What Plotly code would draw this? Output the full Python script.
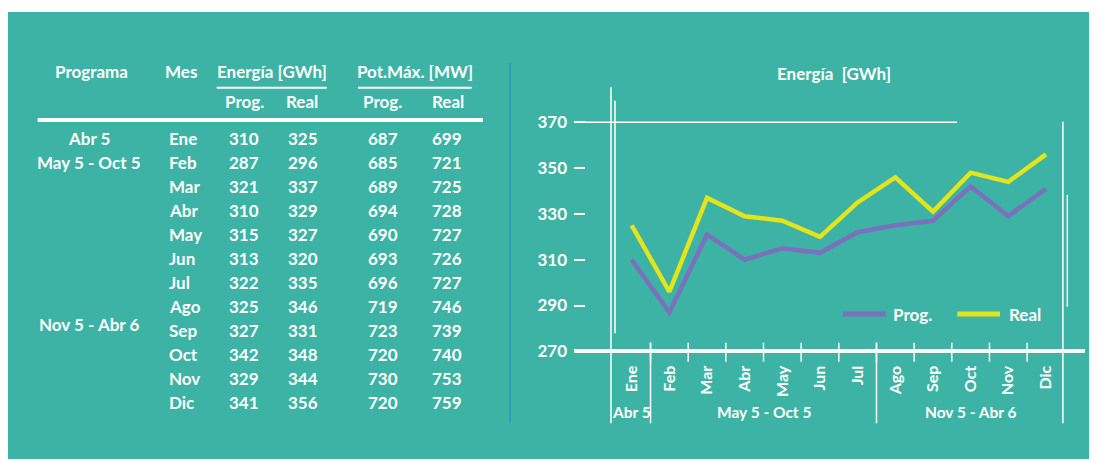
import plotly.graph_objects as go

# The page body adds an 8px margin; the figure is sized so that, with that
# margin, it fills the 1097x462 window. All layout helpers below take
# window pixel positions.
OFF = 8
W, H = 1097 - OFF, 462 - OFF
FONT = "Lato"
TEAL = "#3cb3a4"
WHITE = "#ffffff"
SEP_BLUE = "#1f98cf"

# ---------------- data ----------------
months = ["Ene", "Feb", "Mar", "Abr", "May", "Jun", "Jul", "Ago", "Sep", "Oct", "Nov", "Dic"]
energia_prog = [310, 287, 321, 310, 315, 313, 322, 325, 327, 342, 329, 341]
energia_real = [325, 296, 337, 329, 327, 320, 335, 346, 331, 348, 344, 356]
potmax_prog = [687, 685, 689, 694, 690, 693, 696, 719, 723, 720, 730, 720]
potmax_real = [699, 721, 725, 728, 727, 726, 727, 746, 739, 740, 753, 759]
programas = ["Abr 5", "May 5 - Oct 5", "Nov 5 - Abr 6"]
programa_first = [0, 1, 7]
programa_last = [0, 6, 11]
y_ticks = [270, 290, 310, 330, 350, 370]
series_names = ["Prog.", "Real"]
series_colors = ["#7b70bc", "#e4e41c"]

# ---------------- helpers (layout, window pixels -> paper) ----------------
def px(x):
    return (x - OFF) / W

def py(y):
    return 1 - (y - OFF) / H

annotations = []
shapes = []

def txt(s, x, y, size=17, xanchor="center", xref="paper", yref="paper"):
    annotations.append(dict(
        text=s, x=x, y=y, xref=xref, yref=yref, xanchor=xanchor, yanchor="middle",
        showarrow=False, font=dict(family=FONT, size=size, color=WHITE, weight="bold")))

def line(x0, y0, x1, y1, width=1.5, color=WHITE, xref="paper", yref="paper", layer="above"):
    shapes.append(dict(type="line", x0=x0, y0=y0, x1=x1, y1=y1, xref=xref, yref=yref,
                       layer=layer, line=dict(color=color, width=width)))

# background panel
shapes.append(dict(type="rect", xref="paper", yref="paper", x0=px(7), x1=px(1097),
                   y0=py(459), y1=py(12), fillcolor=TEAL, line=dict(width=0), layer="below"))

# ---------------- table ----------------
ROW0, ROWH = 138.7, 24.0
def row_y(r):
    return py(ROW0 + ROWH * r)

txt("Programa", px(91), py(71.7))
txt("Mes", px(180.5), py(71.7))
txt("Energía [GWh]", px(272), py(71.7))
txt("Pot.Máx. [MW]", px(414.7), py(71.7))
line(px(216.7), py(87.7), px(326.7), py(87.7), width=2)
line(px(358), py(87.7), px(471.7), py(87.7), width=2)
sub_x = [244.5, 301.8, 382.5, 448]
for s, x in zip(["Prog.", "Real", "Prog.", "Real"], sub_x):
    txt(s, px(x), py(101.7))
line(px(37.7), py(120), px(483), py(120), width=4)

col_x = [243.8, 302.7, 382.5, 447.2]
for r, m in enumerate(months):
    txt(m, px(166.5), row_y(r), xanchor="left")
    for x, arr in zip(col_x, [energia_prog, energia_real, potmax_prog, potmax_real]):
        txt(str(arr[r]), px(x), row_y(r))

prog_label_rows = [0, 1, 7.75]
for name, r in zip(programas, prog_label_rows):
    txt(name, px(89), row_y(r))

# separator
line(px(510), py(63), px(510), py(423), width=1.5, color=SEP_BLUE)

# ---------------- chart ----------------
X0, DX = 631.7, 37.66          # window x of first category, pixels per category
PL, PR, PT, PB = 574, 1085, 80, 430
Y370, Y270 = 122.3, 351.3

def xval(p):
    return (p - X0) / DX

def yval(p):
    return 370 - (p - Y370) * 100 / (Y270 - Y370)

xs = list(range(len(months)))
fig = go.Figure()
for name, vals, col in zip(series_names, [energia_prog, energia_real], series_colors):
    fig.add_trace(go.Scatter(x=xs, y=vals, mode="lines", name=name,
                             line=dict(color=col, width=4.5), showlegend=False,
                             hoverinfo="skip"))

# chart title
txt("Energía\u00a0 [GWh]", px(834), py(73))

# horizontal 370 line
line(px(574), y_ticks[-1], px(957), y_ticks[-1], width=1.5, yref="y")
# frame verticals
line(px(611), py(87.3), px(611), py(423.3))
line(px(615), py(100.7), px(615), py(333.3))
line(px(1062.9), py(121.7), px(1062.9), py(423.3))
line(px(1067.3), py(195), px(1067.3), py(306.7))
# category boundary ticks
for i in range(len(months) - 1):
    line(i + 0.5, py(342.7), i + 0.5, py(361.7), xref="x")
# program separators
for f in programa_first[1:]:
    line(f - 0.5, py(342.7), f - 0.5, py(423.3), xref="x")
# program labels under axis
for name, f, l in zip(programas, programa_first, programa_last):
    txt(name, (f + l) / 2, py(412.3), size=15.5, xref="x")

# legend
leg_line = [(843, 885.5), (957.3, 1000)]
leg_text = [890.6, 1006.7]
for name, col, (a, b), tx in zip(series_names, series_colors, leg_line, leg_text):
    line(px(a), py(314), px(b), py(314), width=5, color=col)
    txt(name, px(tx), py(314), xanchor="left")

fig.update_layout(
    width=W, height=H,
    margin=dict(l=0, r=0, t=0, b=0),
    paper_bgcolor="white", plot_bgcolor="rgba(0,0,0,0)",
    showlegend=False,
    font=dict(family=FONT, color=WHITE),
    xaxis=dict(domain=[px(PL), px(PR)], range=[xval(PL), xval(PR)],
               anchor="free", position=py(Y270),
               showline=True, linewidth=4, linecolor=WHITE,
               tickmode="array", tickvals=xs, ticktext=months, tickangle=-90,
               ticks="", showgrid=False, zeroline=False, ticklabelstandoff=6,
               tickfont=dict(family=FONT, size=16, color=WHITE, weight="bold")),
    yaxis=dict(domain=[py(PB), py(PT)], range=[yval(PB), yval(PT)], anchor="x",
               showline=False, showgrid=False, zeroline=False,
               tickmode="array", tickvals=y_ticks, ticks="inside", ticklen=11,
               tickwidth=1.5, tickcolor=WHITE, ticklabelstandoff=6,
               tickfont=dict(family=FONT, size=17, color=WHITE, weight="bold")),
    shapes=shapes, annotations=annotations,
)

fig.write_html("out.html")
